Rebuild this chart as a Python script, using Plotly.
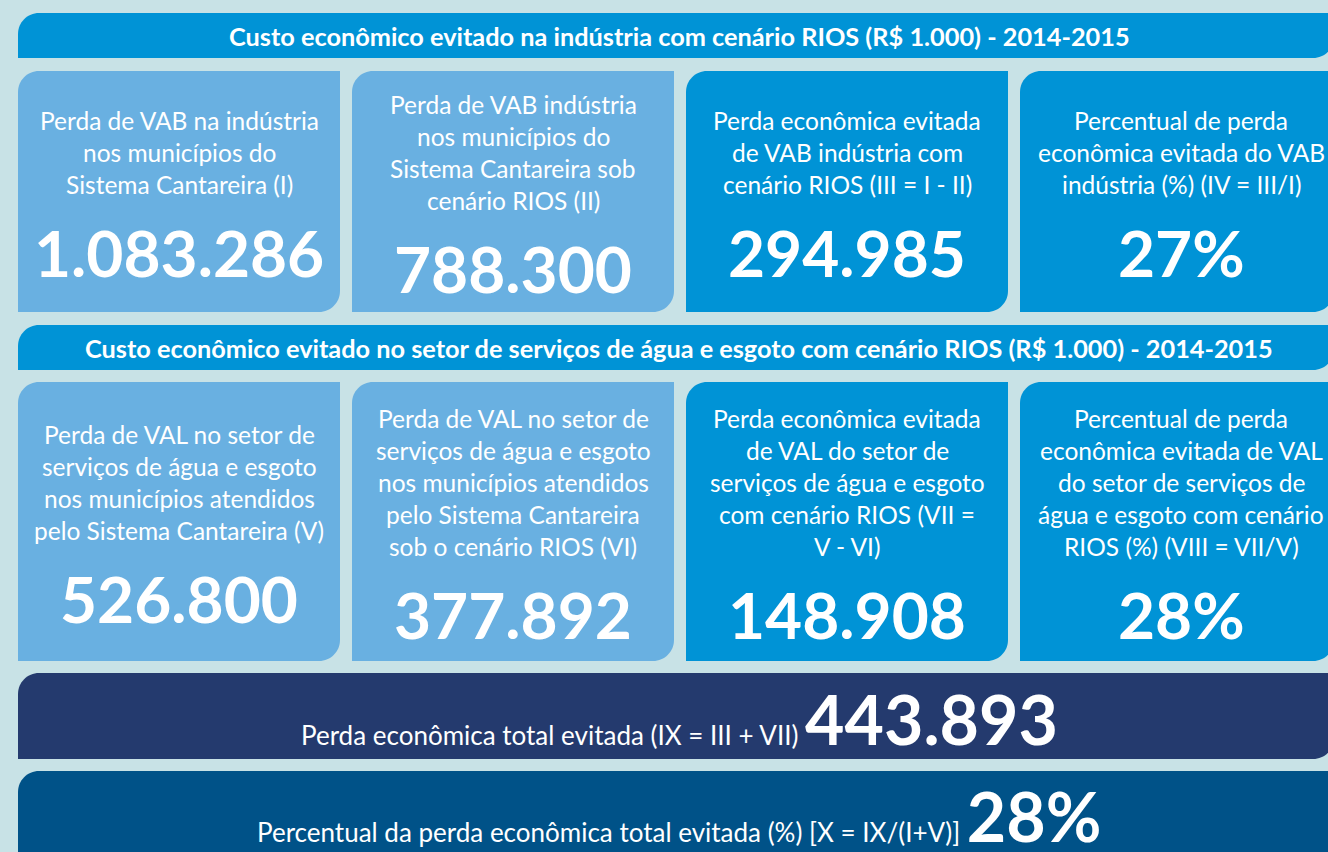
import plotly.graph_objects as go

# ---------------- data ----------------
section_titles = [
    "Custo econômico evitado na indústria com cenário RIOS (R$ 1.000) - 2014-2015",
    "Custo econômico evitado no setor de serviços de água e esgoto com cenário RIOS (R$ 1.000) - 2014-2015",
]

industry_labels = [
    ["Perda de VAB na indústria", "nos municípios do", "Sistema Cantareira (I)"],
    ["Perda de VAB indústria", "nos municípios do", "Sistema Cantareira sob", "cenário RIOS (II)"],
    ["Perda econômica evitada", "de VAB indústria com", "cenário RIOS (III = I - II)"],
    ["Percentual de perda", "econômica evitada do VAB", "indústria (%) (IV = III/I)"],
]
industry_values = [1083286, 788300, 294985]
industry_pct = 27

water_labels = [
    ["Perda de VAL no setor de", "serviços de água e esgoto", "nos municípios atendidos",
     "pelo Sistema Cantareira (V)"],
    ["Perda de VAL no setor de", "serviços de água e esgoto", "nos municípios atendidos",
     "pelo Sistema Cantareira", "sob o cenário RIOS (VI)"],
    ["Perda econômica evitada", "de VAL do setor de", "serviços de água e esgoto",
     "com cenário RIOS (VII =", "V - VI)"],
    ["Percentual de perda", "econômica evitada de VAL", "do setor de serviços de",
     "água e esgoto com cenário", "RIOS (%) (VIII = VII/V)"],
]
water_values = [526800, 377892, 148908]
water_pct = 28

total_labels = [
    "Perda econômica total evitada (IX = III + VII)",
    "Percentual da perda econômica total evitada (%) [X = IX/(I+V)]",
]
total_avoided = 443893
total_pct = 28

# ---------------- styles ----------------
W, H = 1328, 852
BG = "#c8e2e6"
HEADER = "#0093d6"
LIGHT = "#69b0e1"
DARK = "#0093d6"
NAVY = "#243a6e"
DEEP = "#005288"
FONT = "Lato, 'Open Sans', sans-serif"


def fmt(v):
    return f"{v:,}".replace(",", ".")


def rounded(x0, y0, x1, y1, r):
    """top-left and bottom-right rounded rectangle (y grows downward)"""
    k = 0.5523 * r
    return (f"M {x0},{y1} L {x0},{y0 + r} "
            f"C {x0},{y0 + r - k} {x0 + r - k},{y0} {x0 + r},{y0} "
            f"L {x1},{y0} L {x1},{y1 - r} "
            f"C {x1},{y1 - r + k} {x1 - r + k},{y1} {x1 - r},{y1} Z")


fig = go.Figure()
fig.add_trace(go.Scatter(x=[0, W], y=[0, H], mode="markers",
                         marker=dict(opacity=0), hoverinfo="skip", showlegend=False))

shapes = []
annotations = []

LEFT = 18
FULL_RIGHT = 1340
CARD_W = 322
CARD_GAP = 12
CLIP_RIGHT = 1334


def add_block(x0, y0, x1, y1, color, r=21):
    shapes.append(dict(type="path", path=rounded(x0, y0, min(x1, CLIP_RIGHT), y1, r),
                       fillcolor=color, line=dict(width=0), layer="below",
                       xref="x", yref="y"))


def add_text(x, y, text, size, bold=False, xanchor="center"):
    annotations.append(dict(x=x, y=y, xref="x", yref="y", text=f"<b>{text}</b>" if bold else text,
                            showarrow=False, xanchor=xanchor, yanchor="middle",
                            font=dict(family=FONT, size=size, color="white")))


center_x = (LEFT + FULL_RIGHT) / 2
LINE = 32


def card_row(y0, y1, labels, numbers):
    cc = (y0 + y1) / 2
    for i, (lines, num) in enumerate(zip(labels, numbers)):
        x0 = LEFT + i * (CARD_W + CARD_GAP)
        x1 = x0 + CARD_W
        add_block(x0, y0, x1, y1, LIGHT if i < 2 else DARK)
        cx = (x0 + x1) / 2
        n = len(lines)
        top = cc - 16 * n - 39.5
        for j, ln in enumerate(lines):
            add_text(cx, top + 16 + LINE * j, ln, 24.5)
        add_text(cx, top + LINE * n + 52.5, num, 64, bold=True)


# header 1
add_block(LEFT, 13, FULL_RIGHT, 58, HEADER)
add_text(center_x, 36, section_titles[0], 25.3, bold=True)
card_row(71, 312, industry_labels,
         [fmt(v) for v in industry_values] + [f"{industry_pct}%"])

# header 2
add_block(LEFT, 325, FULL_RIGHT, 370, HEADER)
add_text(center_x, 348, section_titles[1], 25.3, bold=True)
card_row(382, 661, water_labels,
         [fmt(v) for v in water_values] + [f"{water_pct}%"])

# totals
add_block(LEFT, 673, FULL_RIGHT, 759, NAVY)
add_block(LEFT, 771, FULL_RIGHT, 900, DEEP)
band_vals = [fmt(total_avoided), f"{total_pct}%"]
for k, (lab, val, yc) in enumerate(zip(total_labels, band_vals, [718, 815])):
    annotations.append(dict(
        x=center_x, y=yc, xref="x", yref="y", showarrow=False,
        xanchor="center", yanchor="middle",
        text=f"{lab} <span style='font-size:68px'><b>{val}</b></span>",
        font=dict(family=FONT, size=26, color="white")))

fig.update_layout(
    width=W, height=H,
    margin=dict(l=0, r=0, t=0, b=0),
    paper_bgcolor=BG, plot_bgcolor=BG,
    xaxis=dict(range=[0, W], visible=False, fixedrange=True),
    yaxis=dict(range=[H, 0], visible=False, fixedrange=True),
    shapes=shapes, annotations=annotations,
    showlegend=False,
)

fig.write_html("out.html", config=dict(displayModeBar=False),
               post_script="document.body.style.margin='0';document.body.style.overflow='hidden';")
